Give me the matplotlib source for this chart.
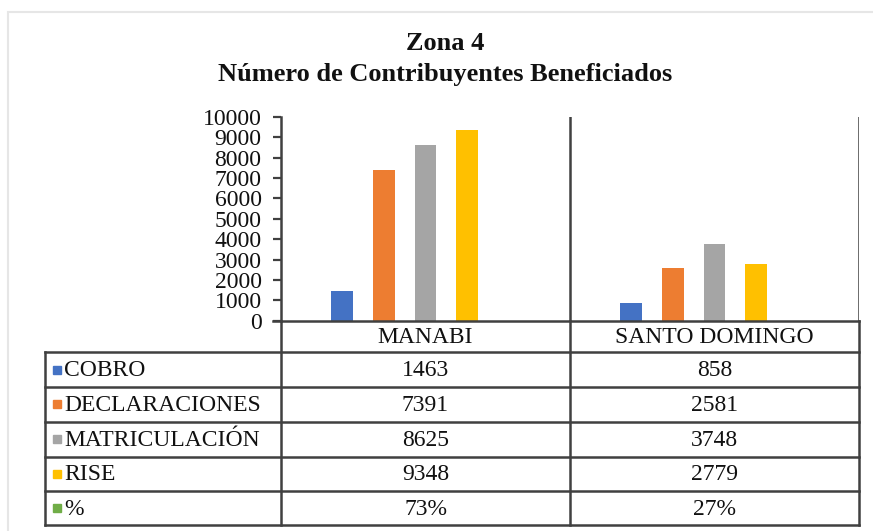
import numpy as np
import matplotlib.pyplot as plt
from matplotlib.patches import Rectangle

# data
categories = ["MANABI", "SANTO DOMINGO"]
series_names = ["COBRO", "DECLARACIONES", "MATRICULACIÓN", "RISE", "%"]
cobro = [1463, 858]
declaraciones = [7391, 2581]
matriculacion = [8625, 3748]
rise = [9348, 2779]
porcentaje = [0.73, 0.27]   # stored as fractions, so the bars are invisible on this scale
table_text = [
    ["1463", "858"],
    ["7391", "2581"],
    ["8625", "3748"],
    ["9348", "2779"],
    ["73%", "27%"],
]
colors = ["#4472C4", "#ED7D31", "#A5A5A5", "#FFC000", "#70AD47"]

plt.rcParams['font.family'] = ['Liberation Serif', 'DejaVu Serif']
W, H = 873, 531
fig = plt.figure(figsize=(W / 100, H / 100), dpi=100)
line_c = "#404040"
txt_c = "#111111"
fs = 17


def fx(px):
    return px / W


def fy(py):
    return 1 - py / H


# faint outer frame
fig.add_artist(Rectangle((fx(8), fy(540)), fx(900), fy(12) - fy(540), transform=fig.transFigure,
                         fill=False, edgecolor="#e6e6e6", lw=1.5))

x_left, x_right, y_top, y_zero = 281, 859, 117, 320.7
ax = fig.add_axes([fx(x_left), fy(y_zero), fx(x_right) - fx(x_left), fy(y_top) - fy(y_zero)])
ax.set_xlim(-0.5, 1.5)
ax.set_ylim(0, 10000)

x = np.arange(len(categories))
values = [cobro, declaraciones, matriculacion, rise, porcentaje]
step = 0.145
for i, (vals, col) in enumerate(zip(values, colors)):
    ax.bar(x + (i - 2) * step, vals, width=0.076, color=col, zorder=3)

ax.set_yticks(np.arange(0, 10001, 1000))
ax.tick_params(axis='y', direction='out', length=6, width=1.6, color=line_c,
               labelsize=fs, labelcolor=txt_c, pad=8)
ax.set_xticks([])
for s in ["top", "bottom", "right"]:
    ax.spines[s].set_visible(False)
ax.spines["left"].set_color(line_c)
ax.spines["left"].set_linewidth(1.8)
for xv in [0.5, 1.5]:
    ax.axvline(xv, color=line_c, lw=1.8, zorder=4)

# data table below the plot
tab_left = 45
per_unit = (x_right - x_left) / 2.0
tx0 = -0.5 - (x_left - tab_left) / per_unit
bounds = [0, 31.5, 66.3, 101, 135.8, 170.5, 204.5]
tab = fig.add_axes([fx(tab_left), fy(y_zero + bounds[-1]), fx(x_right) - fx(tab_left),
                    fy(y_zero) - fy(y_zero + bounds[-1])])
tab.set_xlim(tx0, 1.5)
tab.set_ylim(bounds[-1], 0)
tab.axis("off")

lk = dict(color=line_c, lw=1.8, solid_capstyle="projecting", clip_on=False)
# axis line (with a short stub to the left)
tab.plot([-0.5 - 8 / per_unit, 1.5], [0, 0], **lk)
for b in bounds[1:]:
    tab.plot([tx0, 1.5], [b, b], **lk)
tab.plot([tx0, tx0], [bounds[1], bounds[-1]], **lk)
for xv in [-0.5, 0.5, 1.5]:
    tab.plot([xv, xv], [0, bounds[-1]], **lk)

for j, cat in enumerate(categories):
    tab.text(x[j], (bounds[0] + bounds[1]) / 2 + 1, cat, ha="center", va="center",
             fontsize=fs, color=txt_c)

sq = 8 / per_unit
for i, name in enumerate(series_names):
    yc = (bounds[i + 1] + bounds[i + 2]) / 2
    tab.add_patch(Rectangle((tx0 + 8 / per_unit, yc - 4), sq, 8, color=colors[i], clip_on=False))
    tab.text(tx0 + 19 / per_unit, yc + 1, name, ha="left", va="center", fontsize=fs, color=txt_c)
    for j in range(len(categories)):
        tab.text(x[j], yc + 1, table_text[i][j], ha="center", va="center", fontsize=fs, color=txt_c)

fig.text(fx(445), fy(44), "Zona 4", ha="center", va="center", fontsize=19, fontweight="bold", color=txt_c)
fig.text(fx(445), fy(75), "Número de Contribuyentes Beneficiados", ha="center", va="center",
         fontsize=19, fontweight="bold", color=txt_c)

fig.savefig("out.png", dpi=100)
